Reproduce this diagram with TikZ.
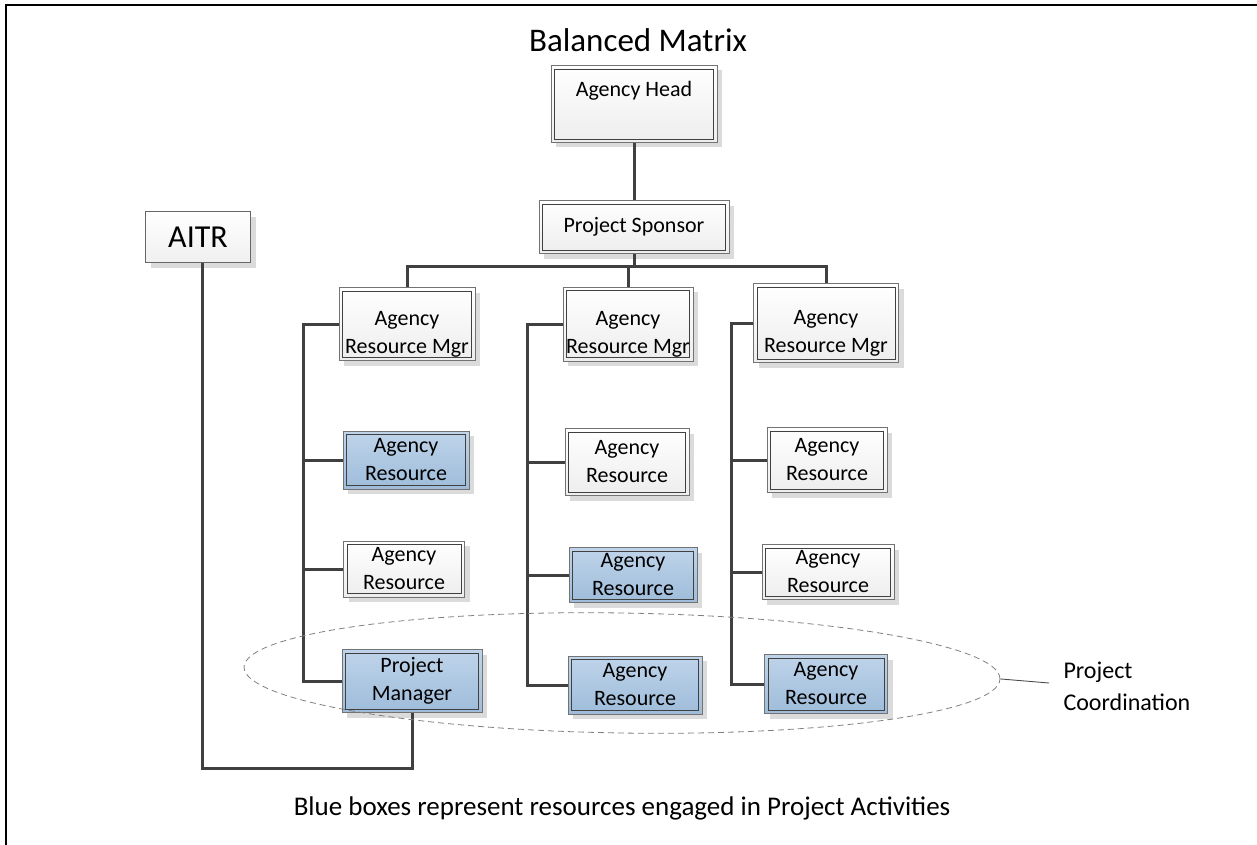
\documentclass[tikz,border=0pt]{standalone}
\usepackage{fontspec}
\setmainfont{Carlito}
\usetikzlibrary{shapes.geometric,shadows}
\definecolor{btop}{HTML}{BFD4EA}
\definecolor{bbot}{HTML}{9EBCDA}
\definecolor{lnc}{HTML}{404040}
\tikzset{
  box/.style={draw=black!55, line width=0.8pt, inner sep=0pt,
    font=\fontsize{22}{28}\selectfont, align=center,
    drop shadow={shadow xshift=5pt, shadow yshift=-5pt, fill=black!14, opacity=1},
    path picture={\draw[draw=lnc, line width=0.8pt]
      ([shift={(3.5pt,-3.5pt)}]path picture bounding box.north west) rectangle
      ([shift={(-3.5pt,3.5pt)}]path picture bounding box.south east);}},
  wbox/.style={box, top color=white, bottom color=black!7},
  bbox/.style={box, top color=btop, bottom color=bbot},
  lbl/.style={font=\fontsize{22}{28}\selectfont, align=center},
  conn/.style={draw=lnc, line width=3pt},
  frameline/.style={draw=black, line width=2.6pt}
}
\begin{document}
\begin{tikzpicture}[x=1pt,y=-1pt]
\useasboundingbox (0,0) rectangle (1257,845);
\draw[frameline] (6,845) -- (6,5) -- (1257,5);

\node[font=\fontsize{33}{38}\selectfont] (title) at (638,40) {Balanced Matrix};

% top
\node[wbox, minimum width=166pt, minimum height=77pt,
  label={[lbl, yshift=13pt]center:Agency Head}] (head) at (634,104) {};
\node[wbox, minimum width=190pt, minimum height=53pt] (sponsor) at (634,227) {Project Sponsor};
\node[draw=black!60, line width=0.8pt, top color=white, bottom color=black!6,
  drop shadow={shadow xshift=5pt, shadow yshift=-5pt, fill=black!14, opacity=1},
  minimum width=105pt, minimum height=51pt,
  font=\fontsize{32}{36}\selectfont] (aitr) at (198,237) {AITR};

% column 1
\node[wbox, minimum width=136pt, minimum height=73pt,
  label={[lbl, yshift=-10pt]center:Agency\\Resource Mgr}] (m1) at (407,324) {};
\node[bbox, minimum width=126pt, minimum height=58pt] (r11) at (406,460) {Agency\\Resource};
\node[wbox, minimum width=121pt, minimum height=56pt] (r12) at (404,569) {Agency\\Resource};
\node[bbox, minimum width=140pt, minimum height=63pt] (pm) at (412,681) {Project\\Manager};

% column 2
\node[wbox, minimum width=130pt, minimum height=74pt,
  label={[lbl, yshift=-10pt]center:Agency\\Resource Mgr}] (m2) at (628,324) {};
\node[wbox, minimum width=124pt, minimum height=67pt] (r21) at (627,462) {Agency\\Resource};
\node[bbox, minimum width=128pt, minimum height=55pt] (r22) at (633,575) {Agency\\Resource};
\node[bbox, minimum width=134pt, minimum height=58pt] (r23) at (635,685) {Agency\\Resource};

% column 3
\node[wbox, minimum width=145pt, minimum height=79pt,
  label={[lbl, yshift=-10pt]center:Agency\\Resource Mgr}] (m3) at (826,323) {};
\node[wbox, minimum width=120pt, minimum height=65pt] (r31) at (827,460) {Agency\\Resource};
\node[wbox, minimum width=132pt, minimum height=55pt] (r32) at (828,572) {Agency\\Resource};
\node[bbox, minimum width=123pt, minimum height=59pt] (r33) at (826,684) {Agency\\Resource};

% connectors top
\coordinate (bus) at (634,266);
\draw[conn] (head) -- (sponsor);
\draw[conn] (sponsor) -- (bus);
\draw[conn] (bus) -| (m1);
\draw[conn] (bus) -| (m3);
\draw[conn] (m2.north) -- (m2.north |- bus);

% spines
\coordinate (s1) at (303,324);
\coordinate (s2) at (527,324);
\coordinate (s3) at (731,323);
\draw[conn] (m1.west) -- (s1) |- (pm.west);
\draw[conn] (r11.west) -- (r11.west -| s1);
\draw[conn] (r12.west) -- (r12.west -| s1);
\draw[conn] (m2.west) -- (s2) |- (r23.west);
\draw[conn] (r21.west) -- (r21.west -| s2);
\draw[conn] (r22.west) -- (r22.west -| s2);
\draw[conn] (m3.west) -- (s3) |- (r33.west);
\draw[conn] (r31.west) -- (r31.west -| s3);
\draw[conn] (r32.west) -- (r32.west -| s3);

% AITR link
\coordinate (low) at (202,768);
\draw[conn] ([xshift=4pt]aitr.south) -- (low) -| (pm.south);

% coordination ellipse
\node[ellipse, draw=black!50, dashed, dash pattern=on 6pt off 4pt, line width=0.8pt,
  minimum width=756pt, minimum height=120pt, rotate=-0.9] (coord) at (622,673) {};
\coordinate (lend) at (1049,683);
\draw[draw=black!70, line width=0.9pt] (coord.east) -- (lend);
\node[anchor=west, align=left, font=\fontsize{24}{32}\selectfont] (pc) at (1060,686) {Project\\Coordination};

\node[font=\fontsize{27}{32}\selectfont] (caption) at (622,808) {Blue boxes represent resources engaged in Project Activities};
\end{tikzpicture}
\end{document}
